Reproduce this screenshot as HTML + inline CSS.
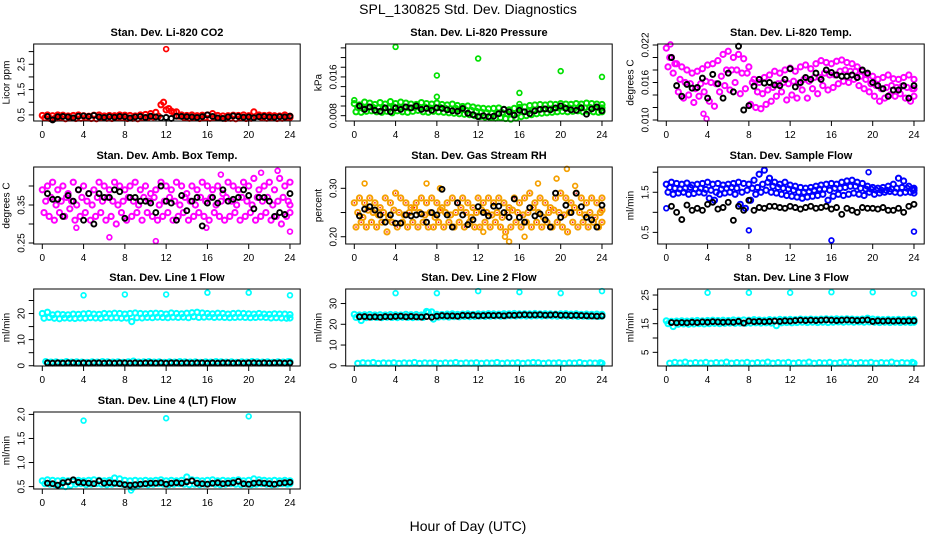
<!DOCTYPE html>
<html><head><meta charset="utf-8">
<style>
html,body{margin:0;padding:0;background:#fff;}
svg{display:block;font-family:"Liberation Sans",sans-serif;}
</style></head>
<body>
<svg id="chart" width="936" height="540" viewBox="0 0 936 540">
<text x="468" y="14" text-anchor="middle" font-size="14">SPL_130825  Std. Dev. Diagnostics</text>
<text x="468" y="531" text-anchor="middle" font-size="14">Hour of Day (UTC)</text>
</svg>
<script>
// ---- data: colored series sampled every 0.5 h from 0; black series every 0.5 h from 0.5 ----
const co2A=[0.48,0.5,0.47,0.5,0.49,0.46,0.48,0.5,0.47,0.45,0.49,0.5,0.46,0.48,0.47,0.5,0.49,0.48,0.46,0.5,0.52,0.55,0.6,0.9,0.7,0.65,0.62,0.5,0.48,0.5,0.47,0.49,0.5,0.55,0.48,0.46,0.47,0.49,0.48,0.5,0.47,0.62,0.5,0.48,0.49,0.47,0.46,0.5,0.45];
const co2B=[0.38,0.36,0.37,0.4,0.35,0.38,0.36,0.37,0.39,0.36,0.35,0.38,0.37,0.36,0.39,0.38,0.36,0.37,0.35,0.38,0.4,0.42,0.45,1.0,0.75,0.6,0.45,0.4,0.37,0.38,0.36,0.39,0.37,0.4,0.38,0.36,0.37,0.35,0.38,0.36,0.37,0.45,0.4,0.37,0.38,0.36,0.37,0.38,0.4];
const co2Blk=[0.44,0.3,0.43,0.44,0.42,0.38,0.45,0.46,0.44,0.48,0.42,0.4,0.43,0.41,0.44,0.43,0.38,0.42,0.44,0.4,0.45,0.42,0.38,0.4,0.36,0.45,0.44,0.43,0.42,0.4,0.43,0.5,0.44,0.38,0.36,0.42,0.46,0.44,0.41,0.42,0.39,0.43,0.44,0.42,0.41,0.43,0.42,0.45];
const co2OutX=[12],co2OutY=[3.1];

const prA=[0.0105,0.0102,0.0108,0.0106,0.0103,0.0107,0.0104,0.0109,0.0105,0.0108,0.0106,0.0104,0.0103,0.0107,0.0105,0.0104,0.0106,0.0103,0.0102,0.0104,0.0101,0.0099,0.01,0.0098,0.0096,0.0095,0.0094,0.0095,0.0096,0.0093,0.0092,0.0095,0.0097,0.0098,0.0101,0.0102,0.0103,0.0102,0.0104,0.0103,0.0105,0.0104,0.0103,0.0105,0.0104,0.0106,0.0105,0.0104,0.0103];
const prB=[0.0088,0.0087,0.0089,0.009,0.0088,0.0087,0.0089,0.0086,0.009,0.0088,0.0087,0.0089,0.0091,0.0088,0.0087,0.0089,0.0088,0.0087,0.0086,0.0085,0.0084,0.0083,0.0082,0.008,0.0078,0.0077,0.0076,0.0075,0.0076,0.0074,0.0073,0.0075,0.0078,0.008,0.0082,0.0084,0.0085,0.0086,0.0087,0.0088,0.0089,0.0088,0.0089,0.009,0.0088,0.0089,0.0088,0.0087,0.0088];
const prC=[0.0097,0.0095,0.0098,0.0097,0.0096,0.0097,0.0096,0.0098,0.0097,0.0098,0.0096,0.0097,0.0097,0.0098,0.0096,0.0097,0.0097,0.0095,0.0094,0.0095,0.0093,0.0091,0.0091,0.0089,0.0087,0.0086,0.0085,0.0085,0.0086,0.0084,0.0083,0.0085,0.0088,0.0089,0.0092,0.0093,0.0094,0.0094,0.0095,0.0096,0.0097,0.0096,0.0096,0.0098,0.0096,0.0097,0.0097,0.0096,0.0096];
const prBlk=[0.01,0.0093,0.0098,0.0091,0.0089,0.0096,0.0088,0.0096,0.0093,0.0098,0.0096,0.01,0.0093,0.0095,0.0091,0.0096,0.0095,0.0092,0.009,0.0089,0.0095,0.0085,0.0082,0.0078,0.008,0.0078,0.0079,0.0084,0.0093,0.0088,0.0081,0.0091,0.0088,0.0084,0.009,0.0093,0.0094,0.0092,0.0096,0.01,0.0095,0.0092,0.0091,0.0096,0.0083,0.0094,0.0098,0.009];
const prOutX=[0,4,8,8,12,16,16,20,21,24],prOutY=[0.0112,0.0222,0.0163,0.0119,0.0198,0.0127,0.0104,0.0172,0.0104,0.016];

const ltA=[0.0215,0.02,0.019,0.0185,0.018,0.0175,0.0178,0.0182,0.0188,0.019,0.0195,0.0205,0.021,0.02,0.0205,0.0198,0.0185,0.0165,0.016,0.0168,0.0172,0.0178,0.0175,0.018,0.0183,0.0178,0.0185,0.0188,0.0182,0.019,0.0195,0.0192,0.019,0.0194,0.0196,0.0192,0.019,0.0185,0.0178,0.0172,0.017,0.0165,0.0168,0.0172,0.0166,0.0165,0.0168,0.0172,0.0165];
const ltB=[0.0185,0.0175,0.0145,0.0135,0.014,0.0128,0.0138,0.0145,0.013,0.0122,0.0145,0.0155,0.0148,0.016,0.0142,0.015,0.0125,0.012,0.0118,0.0125,0.013,0.0138,0.0145,0.0132,0.014,0.0135,0.0148,0.0135,0.015,0.0142,0.0155,0.0148,0.0152,0.0158,0.0162,0.016,0.0165,0.0155,0.015,0.0145,0.0138,0.013,0.0135,0.014,0.0138,0.0142,0.0135,0.013,0.0138];
const ltC=[0.02,0.019,0.0165,0.016,0.0158,0.015,0.0158,0.0162,0.016,0.0158,0.017,0.018,0.018,0.018,0.0175,0.0175,0.016,0.0145,0.0142,0.0148,0.0152,0.0158,0.016,0.0158,0.0162,0.0158,0.0165,0.0162,0.0168,0.0168,0.0175,0.0172,0.0172,0.0178,0.018,0.0178,0.0178,0.017,0.0165,0.0158,0.0155,0.015,0.0152,0.0155,0.0152,0.0154,0.0152,0.015,0.015];
const ltBlk=[0.02,0.0155,0.0138,0.0157,0.0151,0.0152,0.0167,0.0135,0.0173,0.0158,0.0135,0.0175,0.0145,0.0218,0.0116,0.0123,0.0154,0.0165,0.0159,0.016,0.0156,0.0155,0.0165,0.0182,0.0153,0.016,0.0168,0.0165,0.0175,0.0165,0.018,0.0176,0.0172,0.017,0.017,0.0172,0.0168,0.018,0.0175,0.016,0.0155,0.015,0.0138,0.0148,0.0148,0.0155,0.0135,0.0155];
const ltOutX=[3.9,3.6,0.4],ltOutY=[0.0102,0.011,0.0221];

const abA=[0.39,0.4,0.41,0.39,0.4,0.38,0.41,0.39,0.4,0.38,0.39,0.41,0.4,0.39,0.41,0.4,0.39,0.4,0.41,0.39,0.4,0.38,0.39,0.41,0.4,0.39,0.41,0.4,0.38,0.4,0.39,0.41,0.4,0.39,0.4,0.38,0.41,0.4,0.39,0.41,0.4,0.42,0.39,0.4,0.41,0.39,0.42,0.4,0.41];
const abB=[0.33,0.32,0.31,0.33,0.32,0.34,0.31,0.32,0.33,0.31,0.32,0.33,0.31,0.32,0.3,0.33,0.31,0.32,0.33,0.31,0.33,0.32,0.31,0.32,0.33,0.31,0.32,0.33,0.31,0.32,0.33,0.32,0.31,0.33,0.32,0.31,0.32,0.33,0.31,0.32,0.33,0.31,0.32,0.33,0.31,0.32,0.3,0.32,0.33];
const abC=[0.36,0.37,0.35,0.36,0.37,0.36,0.35,0.37,0.36,0.35,0.37,0.36,0.37,0.36,0.35,0.36,0.37,0.36,0.35,0.37,0.36,0.37,0.35,0.36,0.37,0.36,0.35,0.37,0.36,0.35,0.37,0.36,0.37,0.35,0.36,0.37,0.36,0.35,0.37,0.36,0.35,0.37,0.36,0.37,0.35,0.36,0.37,0.36,0.35];
const abBlk=[0.38,0.365,0.365,0.32,0.375,0.36,0.39,0.31,0.38,0.30,0.38,0.37,0.37,0.39,0.385,0.315,0.37,0.37,0.36,0.36,0.355,0.33,0.40,0.36,0.355,0.31,0.375,0.335,0.36,0.37,0.295,0.355,0.37,0.355,0.39,0.36,0.365,0.37,0.39,0.375,0.34,0.37,0.37,0.36,0.32,0.33,0.325,0.38];
const abOutX=[6.5,11,24,15.9,3.3,17.3,22.8,21.2],abOutY=[0.265,0.255,0.28,0.29,0.29,0.43,0.44,0.435];

const rhA=[0.27,0.28,0.27,0.28,0.27,0.26,0.28,0.27,0.29,0.28,0.27,0.26,0.27,0.28,0.27,0.28,0.27,0.26,0.27,0.28,0.27,0.28,0.27,0.26,0.28,0.27,0.28,0.27,0.28,0.27,0.26,0.28,0.27,0.28,0.29,0.27,0.28,0.27,0.26,0.28,0.29,0.28,0.27,0.29,0.28,0.27,0.28,0.27,0.28];
const rhB=[0.22,0.23,0.22,0.23,0.22,0.23,0.21,0.23,0.22,0.23,0.22,0.23,0.22,0.23,0.22,0.22,0.23,0.22,0.23,0.22,0.23,0.22,0.23,0.22,0.22,0.23,0.22,0.23,0.22,0.21,0.22,0.23,0.22,0.23,0.22,0.23,0.22,0.23,0.22,0.23,0.22,0.21,0.23,0.22,0.23,0.22,0.23,0.22,0.23];
const rhC=[0.25,0.24,0.255,0.25,0.245,0.25,0.24,0.255,0.25,0.245,0.25,0.26,0.25,0.245,0.25,0.24,0.255,0.25,0.245,0.25,0.26,0.25,0.24,0.25,0.255,0.25,0.245,0.25,0.24,0.25,0.255,0.25,0.245,0.25,0.26,0.25,0.24,0.25,0.255,0.25,0.245,0.25,0.26,0.25,0.245,0.25,0.24,0.25,0.255];
const rhBlk=[0.243,0.257,0.262,0.255,0.245,0.23,0.245,0.228,0.228,0.245,0.243,0.245,0.247,0.23,0.25,0.245,0.298,0.245,0.22,0.27,0.245,0.225,0.235,0.262,0.25,0.243,0.263,0.263,0.25,0.24,0.278,0.24,0.23,0.26,0.243,0.247,0.235,0.22,0.29,0.24,0.265,0.25,0.29,0.262,0.24,0.235,0.22,0.265];
const rhOutX=[1,7,8.3,15,14.6,16.5,17.8,19.6,20.6,12.5,21.4],rhOutY=[0.31,0.31,0.30,0.19,0.20,0.20,0.31,0.32,0.34,0.21,0.305];

const sfA=[1.7,1.75,1.72,1.7,1.73,1.68,1.7,1.72,1.75,1.7,1.72,1.68,1.7,1.72,1.75,1.72,1.7,1.8,1.95,2.05,1.85,1.75,1.7,1.75,1.68,1.65,1.62,1.6,1.62,1.65,1.68,1.7,1.72,1.7,1.75,1.78,1.8,1.75,1.72,1.65,1.62,1.6,1.62,1.65,1.7,1.85,1.78,1.65,1.6];
const sfB=[1.5,1.45,1.48,1.5,1.45,1.47,1.5,1.48,1.35,1.3,1.45,1.48,1.5,1.45,1.2,1.1,1.3,1.45,1.5,1.55,1.5,1.48,1.45,1.42,1.4,1.38,1.35,1.38,1.4,1.42,1.45,1.3,1.4,1.45,1.42,1.45,1.48,1.45,1.42,1.5,1.45,1.48,1.5,1.52,1.5,1.48,1.5,1.5,1.48];
const sfC=[1.62,1.6,1.58,1.6,1.62,1.58,1.6,1.57,1.55,1.5,1.58,1.6,1.62,1.6,1.5,1.55,1.6,1.62,1.7,1.75,1.65,1.62,1.6,1.58,1.55,1.5,1.5,1.52,1.55,1.58,1.58,1.55,1.6,1.6,1.62,1.65,1.65,1.6,1.58,1.58,1.55,1.55,1.55,1.58,1.6,1.62,1.6,1.58,1.55];
const sfBlk=[1.15,1.0,0.82,1.18,1.05,1.1,1.05,1.2,1.25,1.08,1.12,1.25,0.8,1.15,1.05,1.3,1.05,1.12,1.1,1.15,1.15,1.12,1.1,1.15,1.12,1.08,1.12,1.15,1.1,1.12,1.15,1.08,1.12,0.95,1.1,1.05,1.0,1.12,1.1,1.1,1.08,1.12,1.05,1.05,1.1,1.0,1.15,1.2];
const sfOutX=[0,8,16,24,19.6],sfOutY=[1.1,0.55,0.3,0.52,2.0];

const l1A=[20,20.5,19.5,19.8,19.6,19.5,19.8,19.7,19.9,20,19.8,19.7,20,19.9,20.1,20,19.8,20,20.2,20,19.9,20,20.1,20,19.8,20.2,20,19.9,20.1,20.3,20.5,20.2,20,19.9,20.1,20,19.8,20,20.1,20,19.9,19.8,20,19.8,19.7,19.9,19.8,19.8,19.6];
const l1B=[18.2,18.5,18.2,18,18.3,18.2,18.1,18.3,18.2,18.4,18.3,18.2,18.5,18.3,18.4,18.2,18.3,16.9,18.4,18.3,18.5,18.4,18.6,18.5,18.4,18.6,18.5,18.6,18.4,18.8,18.5,18.6,18.7,18.5,18.6,18.5,18.4,18.5,18.6,18.5,18.4,18.5,18.6,18.5,18.3,18.4,18.3,18.2,18.3];
const l1C=[1.6,1.4,1.5,1.3,1.6,1.4,1.5,1.4,1.3,1.5,1.4,1.6,1.5,1.4,1.5,1.3,1.5,1.8,1.4,1.5,1.6,1.4,1.5,1.3,1.5,1.4,1.6,1.5,1.4,1.5,1.3,1.5,1.4,1.6,1.5,1.4,1.5,1.3,1.5,1.4,1.6,1.5,1.4,1.5,1.3,1.5,1.4,1.6,1.5];
const l1Blk=[1.1,1.0,1.1,1.0,1.1,1.1,1.0,1.1,1.0,1.1,1.1,1.0,1.1,1.0,1.1,1.1,1.0,1.1,1.0,1.1,1.1,1.0,1.1,1.0,1.1,1.1,1.0,1.1,1.0,1.1,1.1,1.0,1.1,1.0,1.1,1.1,1.0,1.1,1.0,1.1,1.1,1.0,1.1,1.0,1.1,1.1,1.0,1.1];
const l1OutX=[4,8,12,16,20,24],l1OutY=[27,27.3,27.3,28,28,27];

const l2A=[24.8,24.5,24.6,24.7,24.5,24.6,24.5,24.7,24.6,24.5,24.8,24.6,24.7,24.5,26.2,26,24.8,24.7,24.9,25,24.8,24.9,25,24.8,25,24.9,25.1,25,24.9,25.1,25,25.2,25,25.1,25,25.2,25,25.1,25,24.9,25,25.1,24.9,25,24.8,24.9,24.8,24.9,24.8];
const l2B=[23.3,21.8,23.2,23.4,23.3,23.2,23.4,23.3,23.2,23.4,23.3,23.2,23.4,23.3,25.8,22.5,23.5,23.6,23.5,23.7,23.6,23.8,23.7,23.8,23.9,23.8,23.9,24,23.9,24,24.1,24,24.1,24,24,24.1,24,24.1,24,23.9,24,23.9,24,23.8,23.9,23.8,23.9,23.8,23.9];
const l2C=[1.2,1.5,1.3,1.6,1.2,1.4,1.3,1.5,1.2,1.4,1.3,1.6,1.2,1.4,1.3,1.5,1.2,1.4,1.3,1.6,1.2,1.4,1.3,1.5,1.2,1.4,1.3,1.6,1.2,1.4,1.3,1.5,1.2,1.4,1.6,1.5,1.2,1.4,1.3,1.5,1.2,1.4,1.3,1.6,1.2,1.4,1.3,1.5,1.2];
const l2Blk=[23.6,23.7,23.5,23.6,23.4,23.7,23.6,23.8,23.9,23.6,23.8,23.6,23.5,23.7,23.4,23.9,24.2,24,24.1,23.9,24.3,24.2,24.4,24.1,24.2,24.3,24.2,24.3,24.1,24.4,24.3,24.5,24.6,24.5,24.5,24.6,24.4,24.5,24.6,24.3,24.4,24.2,24.3,24.2,24.1,24,23.9,24];
const l2OutX=[4,8,12,16,20,24],l2OutY=[35,35,36,35.5,35,36];

const l3A=[16,15.8,15.9,16,15.9,16,16.1,16,16.1,16.2,16.1,16.2,16.1,16.3,16.2,16.3,16.2,16.4,16.3,16.2,16.4,16.3,16.5,16.4,16.5,16.4,16.6,16.5,16.6,16.5,16.6,16.7,16.6,16.7,16.6,16.7,16.6,16.5,16.6,16.9,16.6,16.5,16.4,16.5,16.4,16.5,16.4,16.5,16.4];
const l3B=[15,14,14.8,14.9,14.8,14.9,15,14.9,15,15.1,15,15.1,15.2,15.1,15.2,15.1,15.2,15.3,15.2,15.3,15.2,14.3,15.3,15.4,15.3,15.4,15.5,15.4,15.5,15.4,15.5,15.4,15.5,15.6,15.5,15.6,15.5,15.6,15.5,15.6,15.5,15.4,15.5,15.4,15.5,15.4,15.5,15.4,15.5];
const l3C=[1.2,1.5,1.3,1.6,1.2,1.4,1.3,1.5,1.2,1.4,1.3,1.6,1.2,1.4,1.3,1.5,1.2,1.4,1.3,1.6,1.2,1.4,1.3,1.5,1.2,1.4,1.3,1.6,1.2,1.4,1.3,1.5,1.2,1.4,1.6,1.5,1.2,1.4,1.3,1.5,1.2,1.4,1.3,1.6,1.2,1.4,1.3,1.5,1.2];
const l3Blk=[15.4,15.3,15.4,15.3,15.5,15.4,15.6,15.5,15.7,15.6,15.5,15.6,15.5,15.8,15.2,15.9,15.7,15.8,15.7,15.8,15.9,15.8,16,15.9,16.1,16.2,16.1,16.2,16.1,16.2,16.3,16.2,16.1,16.2,16.3,16.2,16.1,16.2,16.3,15.8,16,15.9,16,15.9,16,15.9,16,16];
const l3OutX=[4,8,12,16,20,24],l3OutY=[25.8,25.8,25.8,26,26,25.5];

const l4A=[0.62,0.64,0.63,0.62,0.63,0.62,0.61,0.63,0.62,0.63,0.64,0.63,0.62,0.63,0.68,0.66,0.63,0.62,0.63,0.62,0.63,0.62,0.63,0.64,0.62,0.63,0.62,0.63,0.7,0.64,0.63,0.62,0.63,0.64,0.62,0.63,0.62,0.63,0.64,0.62,0.63,0.66,0.64,0.63,0.62,0.63,0.62,0.63,0.62];
const l4B=[0.56,0.55,0.54,0.52,0.5,0.53,0.55,0.56,0.54,0.55,0.56,0.55,0.54,0.55,0.56,0.55,0.54,0.48,0.53,0.55,0.54,0.55,0.56,0.55,0.54,0.55,0.56,0.55,0.54,0.55,0.54,0.55,0.56,0.55,0.54,0.55,0.56,0.55,0.54,0.55,0.54,0.55,0.56,0.55,0.54,0.55,0.56,0.55,0.56];
const l4Blk=[0.57,0.56,0.53,0.58,0.6,0.64,0.59,0.58,0.57,0.56,0.62,0.57,0.58,0.57,0.56,0.54,0.53,0.54,0.55,0.56,0.57,0.57,0.58,0.55,0.57,0.58,0.57,0.6,0.62,0.57,0.56,0.55,0.57,0.58,0.56,0.57,0.58,0.61,0.56,0.55,0.57,0.58,0.57,0.56,0.55,0.57,0.58,0.59];
const l4OutX=[4,12,20,8.6],l4OutY=[1.87,1.92,1.96,0.42];

const hourTicks=[0,4,8,12,16,20,24];

// ---- layout (no data) ----
const colL=[33.7,345.7,657.7], boxW=266.5, rowT=[44,167,289,412], boxH=77;
const NS="http://www.w3.org/2000/svg";
const svg=document.getElementById('chart');
function el(tag,attrs,parent){const e=document.createElementNS(NS,tag);for(const k in attrs)e.setAttribute(k,attrs[k]);(parent||svg).appendChild(e);return e;}

const panels=[
 {key:'co2',title:'Stan. Dev. Li-820 CO2',ylab:'Licor ppm',c:0,r:0,ymin:0.26,ymax:3.3,ticks:[0.5,1,1.5,2,2.5,3],labels:[0.5,1.5,2.5],fmt:v=>v.toFixed(1),color:'#ff0000',cols:[co2A,co2B],blk:co2Blk,ox:co2OutX,oy:co2OutY},
 {key:'pressure',title:'Stan. Dev. Li-820 Pressure',ylab:'kPa',c:1,r:0,ymin:0.0069,ymax:0.0228,ticks:[0.008,0.01,0.012,0.014,0.016,0.018,0.02,0.022],labels:[0.008,0.016],fmt:v=>v.toFixed(3),color:'#00e000',cols:[prA,prB,prC],blk:prBlk,ox:prOutX,oy:prOutY},
 {key:'li820-temp',title:'Stan. Dev. Li-820 Temp.',ylab:'degrees C',c:2,r:0,ymin:0.00984,ymax:0.02216,ticks:[0.01,0.012,0.014,0.016,0.018,0.02,0.022],labels:[0.01,0.016,0.022],fmt:v=>v.toFixed(3),color:'#ff00ff',cols:[ltA,ltB,ltC],blk:ltBlk,ox:ltOutX,oy:ltOutY},
 {key:'amb-box-temp',title:'Stan. Dev. Amb. Box Temp.',ylab:'degrees C',c:0,r:1,ymin:0.2474,ymax:0.45,ticks:[0.25,0.3,0.35,0.4],labels:[0.25,0.35],fmt:v=>v.toFixed(2),color:'#ff00ff',cols:[abA,abB,abC],blk:abBlk,ox:abOutX,oy:abOutY},
 {key:'gas-stream-rh',title:'Stan. Dev. Gas Stream RH',ylab:'percent',c:1,r:1,ymin:0.185,ymax:0.344,ticks:[0.2,0.25,0.3],labels:[0.2,0.3],fmt:v=>v.toFixed(2),color:'#f5a000',cols:[rhA,rhB,rhC],blk:rhBlk,ox:rhOutX,oy:rhOutY,dot:'#ff0000'},
 {key:'sample-flow',title:'Stan. Dev. Sample Flow',ylab:'ml/min',c:2,r:1,ymin:0.21,ymax:2.13,ticks:[0.5,1,1.5,2],labels:[0.5,1.5],fmt:v=>v.toFixed(1),color:'#0000ff',cols:[sfA,sfB,sfC],blk:sfBlk,ox:sfOutX,oy:sfOutY},
 {key:'line1-flow',title:'Stan. Dev. Line 1 Flow',ylab:'ml/min',c:0,r:2,ymin:-0.1,ymax:29.4,ticks:[0,5,10,15,20,25],labels:[0,10,20],fmt:v=>String(v),color:'#00ffff',cols:[l1A,l1B,l1C],blk:l1Blk,ox:l1OutX,oy:l1OutY},
 {key:'line2-flow',title:'Stan. Dev. Line 2 Flow',ylab:'ml/min',c:1,r:2,ymin:-0.1,ymax:37,ticks:[0,10,20,30],labels:[0,10,20,30],fmt:v=>String(v),color:'#00ffff',cols:[l2A,l2B,l2C],blk:l2Blk,ox:l2OutX,oy:l2OutY},
 {key:'line3-flow',title:'Stan. Dev. Line 3 Flow',ylab:'ml/min',c:2,r:2,ymin:0.23,ymax:27.1,ticks:[5,10,15,20,25],labels:[5,15,25],fmt:v=>String(v),color:'#00ffff',cols:[l3A,l3B,l3C],blk:l3Blk,ox:l3OutX,oy:l3OutY},
 {key:'line4-flow',title:'Stan. Dev. Line 4 (LT) Flow',ylab:'ml/min',c:0,r:3,ymin:0.45,ymax:2.05,ticks:[0.5,1,1.5,2],labels:[0.5,1,1.5,2],fmt:v=>v.toFixed(1),color:'#00ffff',cols:[l4A,l4B],blk:l4Blk,ox:l4OutX,oy:l4OutY}
];

panels.forEach(p=>{
  const L=colL[p.c], T=rowT[p.r];
  const xs=h=>L+8.6+h*10.32;
  const ys=v=>T+boxH-(v-p.ymin)/(p.ymax-p.ymin)*boxH;
  const g=el('g',{});
  
  
  const t=el('text',{x:L+boxW/2,y:T-8,'text-anchor':'middle','font-size':11,'font-weight':'bold'},g);
  t.textContent=p.title;
  
  
  const yl=el('text',{x:0,y:0,transform:`translate(${L-24},${T+boxH/2}) rotate(-90)`,'text-anchor':'middle','font-size':10},g);
  yl.textContent=p.ylab;
  
  
  const pts=el('g',{fill:'none'},g);
  
  
  const n=p.cols.length;
  p.cols.forEach((arr,k)=>arr.forEach((v,i)=>{
    const h=Math.min(24,i*0.5+k*(0.5/n));
    const c=el('circle',{cx:xs(h),cy:ys(v),r:2.6,stroke:p.color,'stroke-width':2},pts);
    
    
    if(p.dot){el('circle',{cx:xs(h),cy:ys(v),r:0.8,fill:p.dot},pts);}
  }));
  p.ox.forEach((h,i)=>{
    const c=el('circle',{cx:xs(h),cy:ys(p.oy[i]),r:2.4,stroke:p.color,'stroke-width':1.7},pts);
    
    
  });
  p.blk.forEach((v,i)=>{
    const c=el('circle',{cx:xs((i+1)*0.5),cy:ys(v),r:2.5,stroke:'#000','stroke-width':1.9},pts);
    
    
  });
  const box=el('rect',{x:L,y:T,width:boxW,height:boxH,fill:'none',stroke:'#000','stroke-width':1},g);
  
  
  const xa=el('g',{},g);
  
  
  hourTicks.forEach(h=>{
    el('line',{x1:xs(h),x2:xs(h),y1:T+boxH,y2:T+boxH+5,stroke:'#000'},xa);
    const tl=el('text',{x:xs(h),y:T+boxH+17,'text-anchor':'middle','font-size':10},xa);
    tl.textContent=h;
    
    
  });
  const ya=el('g',{},g);
  
  
  p.ticks.forEach(v=>{el('line',{x1:L-5,x2:L,y1:ys(v),y2:ys(v),stroke:'#000'},ya);});
  p.labels.forEach(v=>{
    const tl=el('text',{x:0,y:0,transform:`translate(${L-9},${ys(v)}) rotate(-90)`,'text-anchor':'middle','font-size':10},ya);
    tl.textContent=p.fmt(v);
    
    
  });
});
</script>
</body></html>
